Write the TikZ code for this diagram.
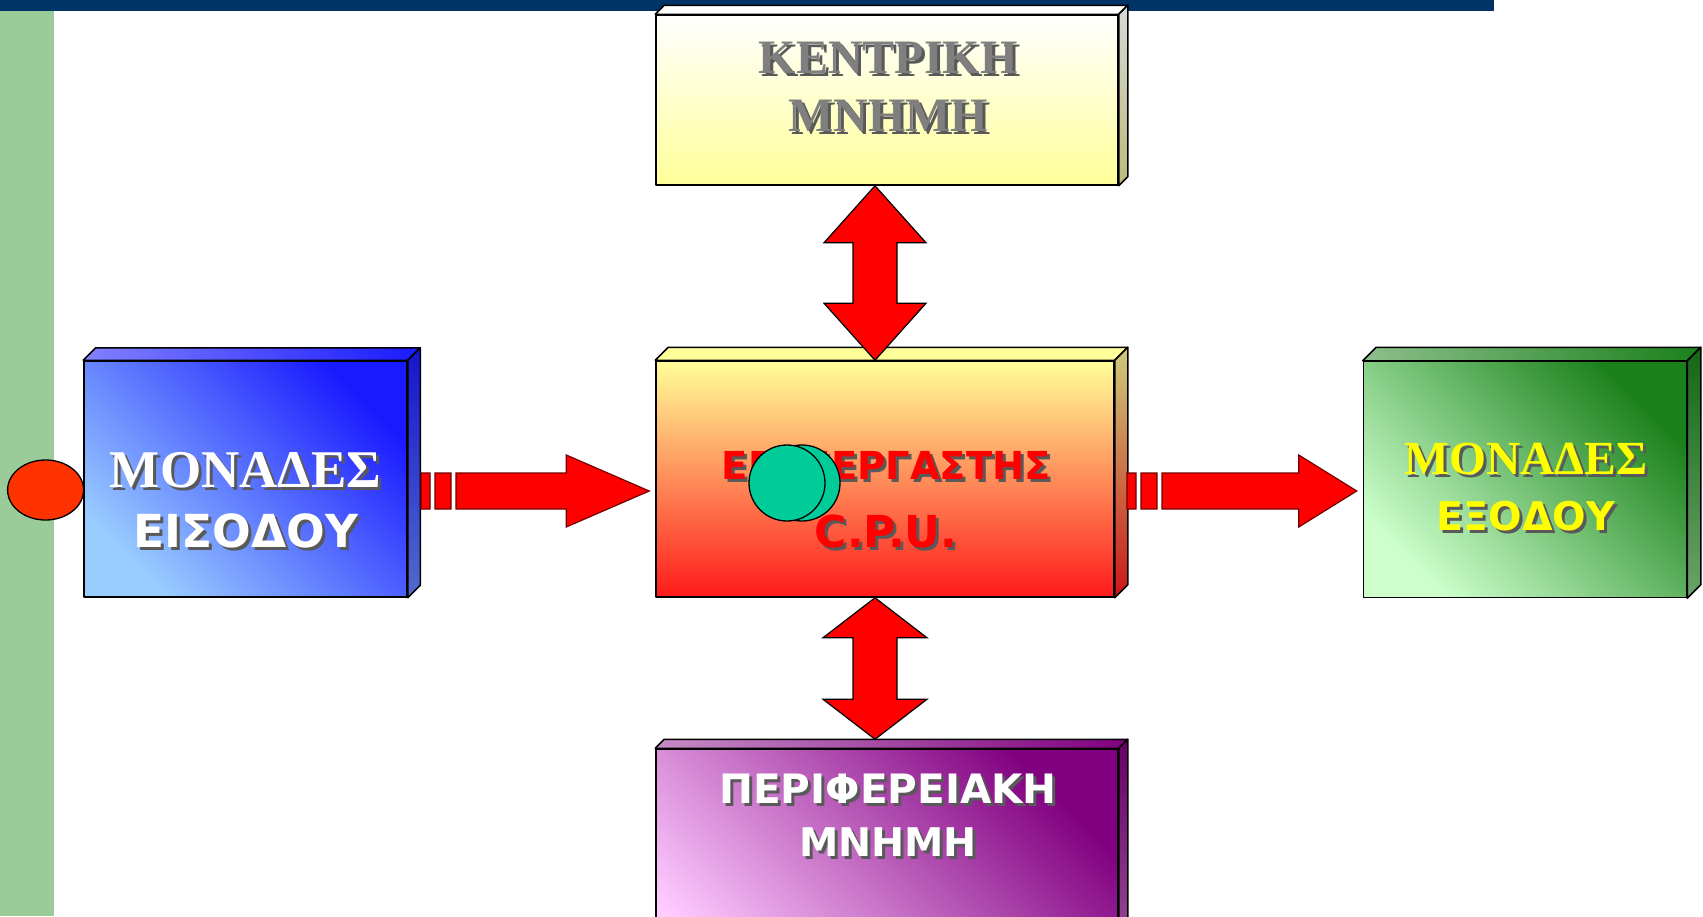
\documentclass[tikz,border=0pt]{standalone}
\usepackage{fontspec}
\usetikzlibrary{calc}
\newfontfamily\serifgr{Liberation Serif}
\newfontfamily\sansgr{DejaVu Sans}
\definecolor{barblue}{HTML}{003366}
\definecolor{stripgreen}{HTML}{99CC99}
\definecolor{memyel}{HTML}{FFFF99}
\definecolor{memgray}{HTML}{7F7F7F}
\definecolor{inpdark}{HTML}{1A1AFF}
\definecolor{inplight}{HTML}{99CCFF}
\definecolor{cpumid}{HTML}{FFB36B}
\definecolor{cpured}{HTML}{FF1A1A}
\definecolor{outdark}{HTML}{1A801A}
\definecolor{outlight}{HTML}{CCFFCC}
\definecolor{perdark}{HTML}{800080}
\definecolor{perlight}{HTML}{FFCCFF}
\definecolor{dotred}{HTML}{FF3300}
\definecolor{moongreen}{HTML}{00CC99}
\definecolor{txtyellow}{HTML}{FFFF00}
\newcommand\sh[2][black!65]{\rlap{\kern3pt\raisebox{-3pt}{\textcolor{#1}{#2}}}#2}
\newcommand\boxfaces[4]{%
  \draw[boxline,#3] (#1.north west) -- ++(#2,-#2) -- ($(#1.north east)+(#2,-#2)$) -- (#1.north east) -- cycle;
  \draw[boxline,#4] (#1.north east) -- ++(#2,-#2) -- ($(#1.south east)+(#2,-#2)$) -- (#1.south east) -- cycle;}
\newcommand\vdouble[4]{%
  \draw[vblock] let \p1=(#1), \p2=(#2) in
   (\p1) -- (\x1+#4pt,\y1-#3pt) -- (\x1+22pt,\y1-#3pt) -- (\x1+22pt,\y2+#3pt) -- (\x1+#4pt,\y2+#3pt) -- (\p2)
   -- (\x1-#4pt,\y2+#3pt) -- (\x1-22pt,\y2+#3pt) -- (\x1-22pt,\y1-#3pt) -- (\x1-#4pt,\y1-#3pt) -- cycle;}
\newcommand\hstriped[3]{%
  \draw[hblock] let \p1=(#1), \p2=(#2) in
   (\x1,\y1+18pt) rectangle (\x1+9pt,\y1-18pt)
   (\x1+14pt,\y1+18pt) rectangle (\x1+30pt,\y1-18pt)
   (\x1+35pt,\y1+18pt) -- (\x2-#3pt,\y1+18pt) -- (\x2-#3pt,\y1+36pt) -- (\p2)
   -- (\x2-#3pt,\y1-36pt) -- (\x2-#3pt,\y1-18pt) -- (\x1+35pt,\y1-18pt) -- cycle;}
\begin{document}
\begin{tikzpicture}[x=1pt,y=-1pt,
  boxline/.style={draw=black,line width=1.5pt,line join=round},
  frontbox/.style={boxline,rectangle,inner sep=0pt},
  vblock/.style={fill=red,draw=black,line width=1.2pt,line join=miter},
  hblock/.style={fill=red,draw=red!45!black,line width=1.2pt,line join=miter},
  lbl/.style={inner sep=0pt,anchor=base},
  serifbig/.style={font=\serifgr\bfseries\fontsize{#1pt}{#1pt}\selectfont},
  sansbig/.style={font=\sansgr\bfseries\fontsize{#1pt}{#1pt}\selectfont},
  ]
\useasboundingbox (0,0) rectangle (1703,916);
\clip (0,0) rectangle (1703,916);
\fill[stripgreen] (0,11) rectangle (54,916);
\fill[barblue] (0,0) rectangle (1494,11);
% boxes
\node[frontbox, minimum width=462pt, minimum height=170pt, top color=white, bottom color=memyel] (mem) at (887,100) {};
\boxfaces{mem}{9}{fill=white}{top color=black!15, bottom color=memyel!70!black!90}
\node[frontbox, minimum width=323pt, minimum height=236pt, top color=inpdark, bottom color=inplight, shading angle=-45] (inp) at (245.5,479) {};
\boxfaces{inp}{12.5}{left color=inpdark!55!white, right color=inpdark}{top color=inpdark!80!black, bottom color=inpdark!40!inplight!80!black}
\node[frontbox, minimum width=458pt, minimum height=236pt, top color=memyel, middle color=cpumid, bottom color=cpured] (cpu) at (885,479) {};
\boxfaces{cpu}{13}{fill=memyel}{top color=memyel!80!black, bottom color=cpured!80!black}
\node[frontbox, minimum width=323pt, minimum height=236pt, top color=outdark, bottom color=outlight, shading angle=-45] (out) at (1525,479.5) {};
\boxfaces{out}{13.5}{left color=outdark!50!white, right color=outdark}{top color=outdark!80!black, bottom color=outdark!40!outlight!80!black}
\node[frontbox, minimum width=462pt, minimum height=260pt, top color=perdark, bottom color=perlight, shading angle=-45] (per) at (887,879) {};
\boxfaces{per}{9}{left color=perdark!45!white, right color=perdark}{top color=perdark!80!black, bottom color=perdark!40!perlight!80!black}
% texts
\node[lbl, serifbig=48, text=memgray] (memt1) at (888,73) {\sh{ΚΕΝΤΡΙΚΗ}};
\node[lbl, serifbig=48, text=memgray] (memt2) at (888,131) {\sh{ΜΝΗΜΗ}};
\node[lbl, serifbig=53, text=white] (inpt1) at (245.5,487) {\sh{ΜΟΝΑΔΕΣ}};
\node[lbl, sansbig=45.5, text=white] (inpt2) at (246,547) {\sh{ΕΙΣΟΔΟΥ}};
\node[lbl, sansbig=38.5, text=red] (cput1) at (886.5,479) {\sh{ΕΠΕΞΕΡΓΑΣΤΗΣ}};
\node[lbl, sansbig=44, text=red] (cput2) at (886,547) {\sh{C.P.U.}};
\node[lbl, serifbig=47.5, text=txtyellow] (outt1) at (1526,474) {\sh{ΜΟΝΑΔΕΣ}};
\node[lbl, sansbig=39.5, text=txtyellow] (outt2) at (1526,530) {\sh{ΕΞΟΔΟΥ}};
\node[lbl, sansbig=40.5, text=white] (pert1) at (888,803) {\sh{ΠΕΡΙΦΕΡΕΙΑΚΗ}};
\node[lbl, sansbig=39.5, text=white] (pert2) at (888,856) {\sh{ΜΝΗΜΗ}};
% decorations
\draw[fill=dotred, line width=1.3pt] (45.6,490) ellipse [x radius=38, y radius=30];
\node[circle, draw=black, line width=1.3pt, fill=moongreen, minimum size=76pt, inner sep=0pt] (moonb) at (802,483) {};
\node[circle, draw=black, line width=1.3pt, fill=moongreen, minimum size=76pt, inner sep=0pt] (moonf) at (787,483) {};
% connectors
\coordinate (v1t) at (mem.south -| 875,0);
\coordinate (v1b) at (cpu.north -| 875,0);
\coordinate (v2t) at (cpu.south -| 875,0);
\coordinate (v2b) at ($(per.north -| 875,0)+(0,-9)$);
\vdouble{v1t}{v1b}{57}{51}
\vdouble{v2t}{v2b}{40}{52}
\coordinate (h1s) at (421,491);
\coordinate (h1t) at ($(cpu.west |- 0,491)+(-6,0)$);
\coordinate (h2s) at (1127,491);
\coordinate (h2t) at ($(out.west |- 0,491)+(-6,0)$);
\hstriped{h1s}{h1t}{83}
\hstriped{h2s}{h2t}{58}
\end{tikzpicture}
\end{document}
